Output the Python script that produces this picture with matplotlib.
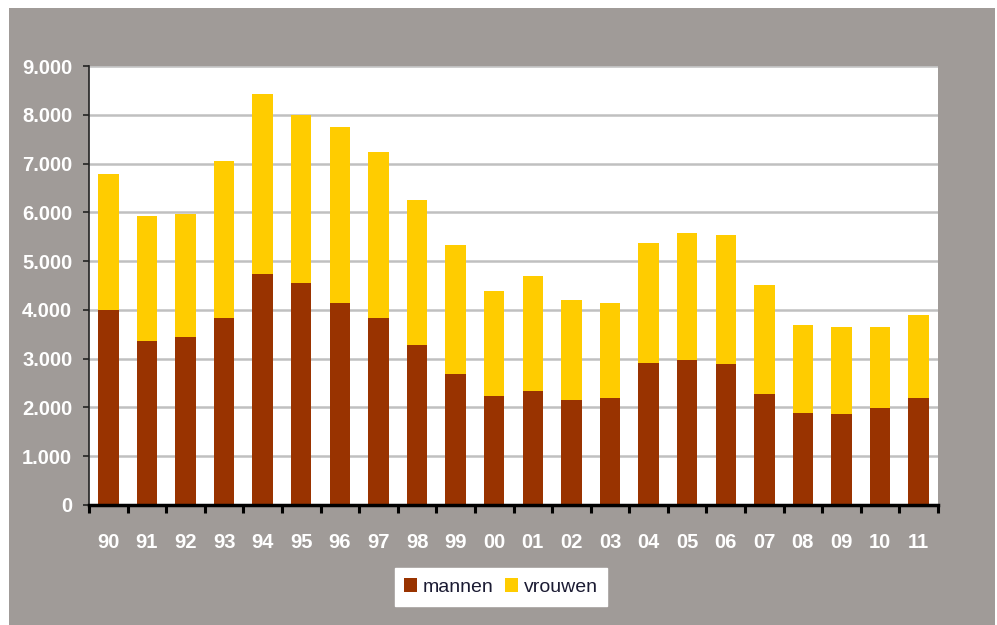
import matplotlib
matplotlib.use("Agg")
import matplotlib.pyplot as plt
from matplotlib.patches import Rectangle
import numpy as np

years = ["90", "91", "92", "93", "94", "95", "96", "97", "98", "99", "00",
         "01", "02", "03", "04", "05", "06", "07", "08", "09", "10", "11"]
mannen = [3990, 3360, 3450, 3840, 4740, 4545, 4140, 3840, 3290, 2695, 2235,
          2330, 2155, 2195, 2910, 2965, 2890, 2275, 1895, 1875, 1995, 2195]
totaal = [6785, 5915, 5975, 7045, 8420, 7995, 7740, 7240, 6255, 5330, 4380,
          4695, 4205, 4135, 5375, 5570, 5530, 4510, 3685, 3655, 3645, 3895]
vrouwen = [t - m for t, m in zip(totaal, mannen)]
yticks = [0, 1000, 2000, 3000, 4000, 5000, 6000, 7000, 8000, 9000]
ytick_labels = ["0", "1.000", "2.000", "3.000", "4.000", "5.000", "6.000",
                "7.000", "8.000", "9.000"]

BG = "#a09b98"
C_MAN = "#993300"
C_VROUW = "#ffcc00"

plt.rcParams['font.family'] = ['Liberation Sans', 'DejaVu Sans']

fig = plt.figure(figsize=(9.97, 6.25), dpi=100)
fig.patch.set_facecolor("white")
fig.patches.append(Rectangle((9/997, 0), (995-9)/997, (625-8)/625,
                             transform=fig.transFigure, facecolor=BG,
                             edgecolor="none", zorder=-10))

ax = fig.add_axes([89/997, (625-505)/625, (938-89)/997, (505-66)/625])
ax.set_facecolor("white")

x = np.arange(len(years))
ax.bar(x, mannen, width=0.53, color=C_MAN, label="mannen", zorder=3)
ax.bar(x, vrouwen, width=0.53, bottom=mannen, color=C_VROUW, label="vrouwen", zorder=3)

ax.set_xlim(-0.5, len(years) - 0.5)
ax.set_ylim(0, 9000)
ax.set_yticks(yticks)
ax.set_yticklabels(ytick_labels)
ax.set_xticks(x)
ax.set_xticklabels(years)
ax.set_xticks(np.arange(-0.5, len(years), 1.0), minor=True)

ax.grid(axis="y", color="#c0c0c0", linewidth=1.8, zorder=0)
ax.set_axisbelow(True)

for s in ["top", "right"]:
    ax.spines[s].set_visible(False)
ax.spines["left"].set_color("#222222")
ax.spines["left"].set_linewidth(1.2)
ax.spines["bottom"].set_color("black")
ax.spines["bottom"].set_linewidth(2.5)
ax.spines["bottom"].set_zorder(5)

ax.tick_params(axis="y", direction="out", length=4, width=1.2, color="#222222",
               labelcolor="white", labelsize=14.5, pad=8)
ax.tick_params(axis="x", which="major", length=0, labelcolor="white",
               labelsize=14.5, pad=20)
ax.tick_params(axis="x", which="minor", direction="out", length=6, width=2.2,
               color="black")
for lab in ax.get_xticklabels() + ax.get_yticklabels():
    lab.set_fontweight("bold")

leg = fig.legend(loc="center", bbox_to_anchor=(501/997, (625-587)/625),
                 ncol=2, frameon=True, fancybox=False, fontsize=14,
                 handlelength=0.65, handleheight=0.75, handletextpad=0.3,
                 columnspacing=0.6, borderpad=0.5, borderaxespad=0,
                 labelcolor="#1b1b33")
leg.get_frame().set_facecolor("white")
leg.get_frame().set_edgecolor("white")
leg.get_frame().set_alpha(1)

fig.savefig("out.png", dpi=100, facecolor=fig.get_facecolor())
